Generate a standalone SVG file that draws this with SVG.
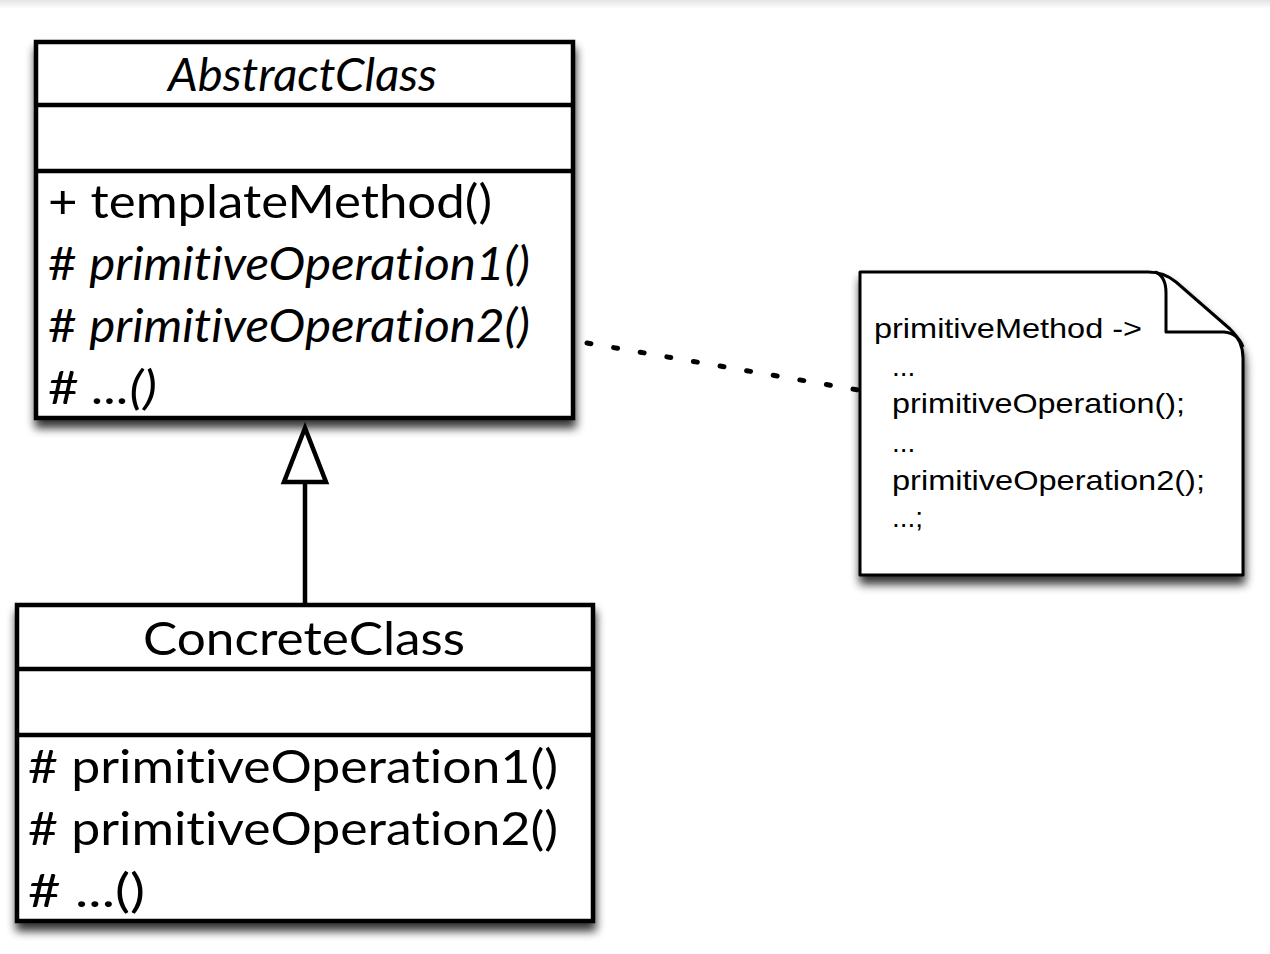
<svg xmlns="http://www.w3.org/2000/svg" width="1270" height="954" viewBox="0 0 1270 954">
  <defs>
    <filter id="shadow" x="-10%" y="-10%" width="120%" height="130%">
      <feGaussianBlur in="SourceAlpha" stdDeviation="5"/>
      <feOffset dx="1" dy="8" result="b"/>
      <feComponentTransfer><feFuncA type="linear" slope="0.8"/></feComponentTransfer>
      <feMerge><feMergeNode/><feMergeNode in="SourceGraphic"/></feMerge>
    </filter>
    <linearGradient id="topband" x1="0" y1="0" x2="0" y2="1">
      <stop offset="0" stop-color="#e4e4e4"/>
      <stop offset="1" stop-color="#ffffff"/>
    </linearGradient>
  </defs>
  <style>
    .box { fill: #ffffff; stroke: #000000; stroke-width: 4.5; }
    .div { stroke: #000000; stroke-width: 4.5; }
    .uml { font-family: Lato, "Open Sans", "DejaVu Sans", sans-serif; font-size: 46px; fill: #000000; font-variant-ligatures: none; }
    .it { font-style: italic; }
    .note { fill: #ffffff; stroke: #000000; stroke-width: 3; stroke-linejoin: round; }
    .fold { fill: none; stroke: #000000; stroke-width: 3; stroke-linejoin: round; }
    .nt { font-family: "Liberation Sans", Arial, sans-serif; font-size: 28px; fill: #000000; }
    .conn { fill: none; stroke: #000000; stroke-width: 4.5; }
    .dots { fill: none; stroke: #000000; stroke-width: 5; stroke-dasharray: 4 23; stroke-linecap: round; }
  </style>
  <rect x="0" y="0" width="1270" height="954" fill="#ffffff"/>
  <rect x="0" y="0" width="1270" height="9" fill="url(#topband)"/>

  <g id="AbstractClass">
    <rect class="box" x="36" y="42" width="537" height="376" filter="url(#shadow)"/>
    <line class="div" x1="36" y1="105" x2="573" y2="105"/>
    <line class="div" x1="36" y1="171" x2="573" y2="171"/>
    <text class="uml it" x="168" y="91" textLength="269" lengthAdjust="spacingAndGlyphs">AbstractClass</text>
    <text class="uml" x="48" y="218" textLength="444" lengthAdjust="spacingAndGlyphs">+ templateMethod()</text>
    <text class="uml" x="48" y="280" textLength="482" lengthAdjust="spacingAndGlyphs"># <tspan class="it">primitiveOperation1()</tspan></text>
    <text class="uml" x="48" y="342" textLength="482" lengthAdjust="spacingAndGlyphs"># <tspan class="it">primitiveOperation2()</tspan></text>
    <text class="uml" x="48" y="404" textLength="109" lengthAdjust="spacingAndGlyphs"># <tspan class="it">...()</tspan></text>
  </g>

  <g id="ConcreteClass">
    <rect class="box" x="17" y="605" width="576" height="316" filter="url(#shadow)"/>
    <line class="div" x1="17" y1="669" x2="593" y2="669"/>
    <line class="div" x1="17" y1="735" x2="593" y2="735"/>
    <text class="uml" x="143" y="655" textLength="322" lengthAdjust="spacingAndGlyphs">ConcreteClass</text>
    <text class="uml" x="28" y="783" textLength="530" lengthAdjust="spacingAndGlyphs"># primitiveOperation1()</text>
    <text class="uml" x="28" y="845" textLength="530" lengthAdjust="spacingAndGlyphs"># primitiveOperation2()</text>
    <text class="uml" x="28" y="907" textLength="117" lengthAdjust="spacingAndGlyphs"># ...()</text>
  </g>

  <g id="Note">
    <path class="note" filter="url(#shadow)" d="M860,272 L1148,272 Q1164,272 1176,282 L1230,329 Q1243,341 1243,358 L1243,575 L860,575 Z"/>
    <path class="fold" d="M1155,272 Q1166,276 1166,293 L1166,332 L1224,332 Q1238,333 1243,347"/>
    <text class="nt" x="874" y="338" textLength="268" lengthAdjust="spacingAndGlyphs">primitiveMethod -&gt;</text>
    <text class="nt" x="892" y="376">...</text>
    <text class="nt" x="892" y="413" textLength="293" lengthAdjust="spacingAndGlyphs">primitiveOperation();</text>
    <text class="nt" x="892" y="452">...</text>
    <text class="nt" x="892" y="490" textLength="313" lengthAdjust="spacingAndGlyphs">primitiveOperation2();</text>
    <text class="nt" x="892" y="527">...;</text>
  </g>

  <g id="connectors">
    <line class="conn" x1="305" y1="482" x2="305" y2="604"/>
    <polygon class="conn" style="fill:#ffffff" points="305,428 284,482 326,482"/>
    <path class="dots" d="M587,343 L858,390"/>
  </g>
</svg>
